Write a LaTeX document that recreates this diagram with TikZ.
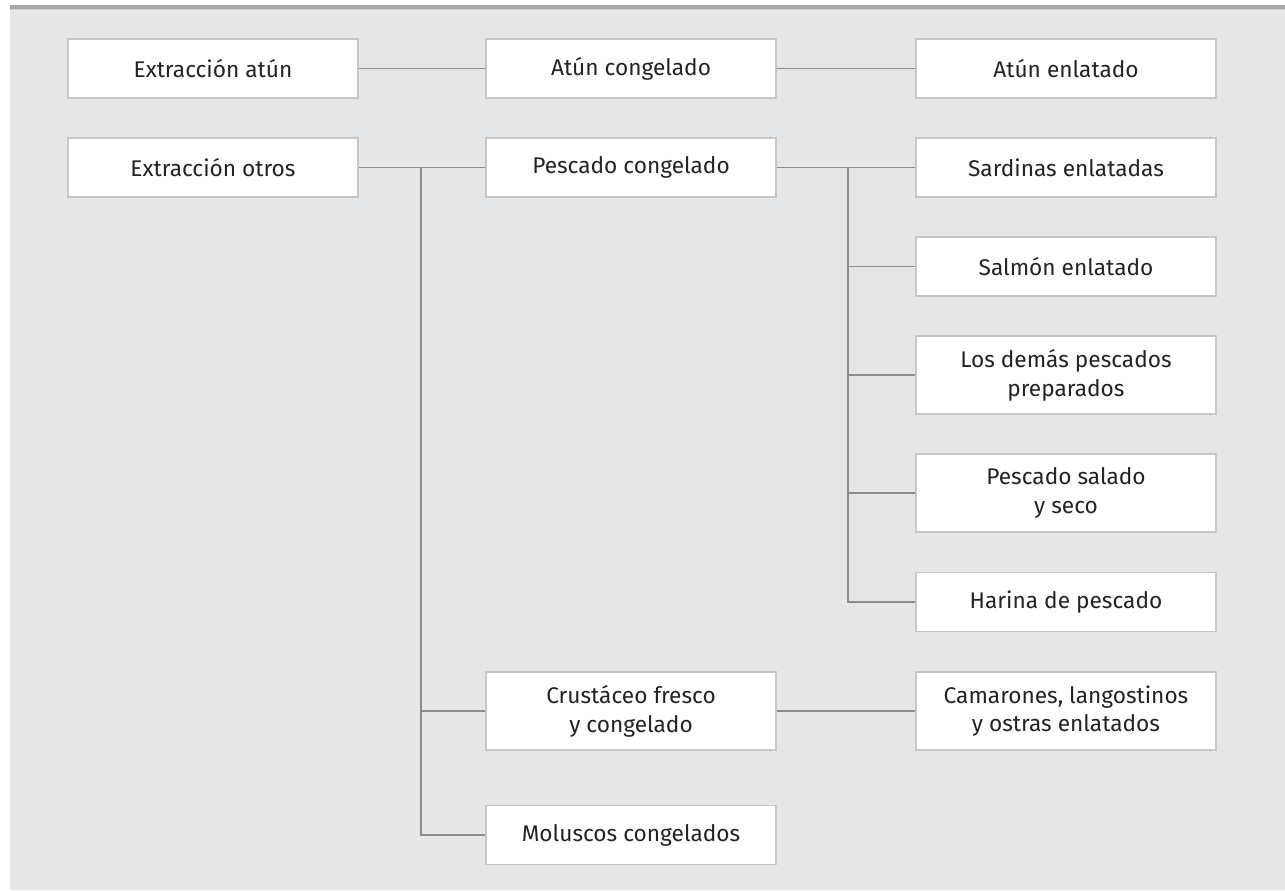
\documentclass[tikz,border=0pt]{standalone}
\usepackage{fontspec}
\setmainfont{Fira Sans}
\usetikzlibrary{positioning}
\definecolor{fondo}{HTML}{E5E6E8}
\definecolor{borde}{HTML}{C6C7C9}
\definecolor{linea}{HTML}{8A8B8D}
\definecolor{texto}{HTML}{232323}
\tikzstyle{producto} = [draw=borde, fill=white, line width=0.9pt, rectangle, minimum width=217.5pt, minimum height=44.25pt, align=center, text=texto, font=\fontsize{17}{21.5}\selectfont, inner sep=0pt]
\tikzstyle{doble} = [producto, minimum height=58.5pt]
\tikzstyle{ancho} = [minimum width=225pt]
\tikzstyle{enlace} = [draw=linea, line width=1.1pt]
\begin{document}
\begin{tikzpicture}[x=0.75pt, y=-0.75pt]
\useasboundingbox (0,0) rectangle (1285,890);
\fill[fondo] (10,10) rectangle (1285,890);
\fill[black!35] (10,5) rectangle (1285,8.5);
\fill[black!20] (10,8.5) rectangle (1285,10);

\node[producto] (eatun) at (213,68.5) {Extracción atún};
\node[producto] (acong) at (631,68.5) {Atún congelado};
\node[producto, ancho] (aenl) at (1066,68.5) {Atún enlatado};

\node[producto] (eotros) at (213,167.5) {Extracción otros};
\node[producto] (pcong) at (631,167.5) {Pescado congelado};
\node[producto, ancho] (sard) at (1066,167.5) {Sardinas enlatadas};
\node[producto, ancho] (salm) at (1066,266.5) {Salmón enlatado};
\node[doble, ancho] (demas) at (1066,375) {Los demás pescados\\preparados};
\node[doble, ancho] (salado) at (1066,493) {Pescado salado\\y seco};
\node[producto, ancho] (harina) at (1066,602) {Harina de pescado};
\node[doble] (crust) at (631,711) {Crustáceo fresco\\y congelado};
\node[doble, ancho] (camar) at (1066,711) {Camarones, langostinos\\y ostras enlatados};
\node[producto] (molus) at (631,835) {Moluscos congelados};

\coordinate (t1) at (421,167.5);
\coordinate (t2) at (848,167.5);

\draw[enlace] (eatun) -- (acong);
\draw[enlace] (acong) -- (aenl);
\draw[enlace] (eotros) -- (pcong);
\draw[enlace] (pcong) -- (sard);
\draw[enlace] (t1) |- (molus.west);
\draw[enlace] (t1 |- crust.west) -- (crust.west);
\draw[enlace] (crust) -- (camar);
\draw[enlace] (t2) |- (harina.west);
\draw[enlace] (t2 |- salm.west) -- (salm.west);
\draw[enlace] (t2 |- demas.west) -- (demas.west);
\draw[enlace] (t2 |- salado.west) -- (salado.west);
\end{tikzpicture}
\end{document}
